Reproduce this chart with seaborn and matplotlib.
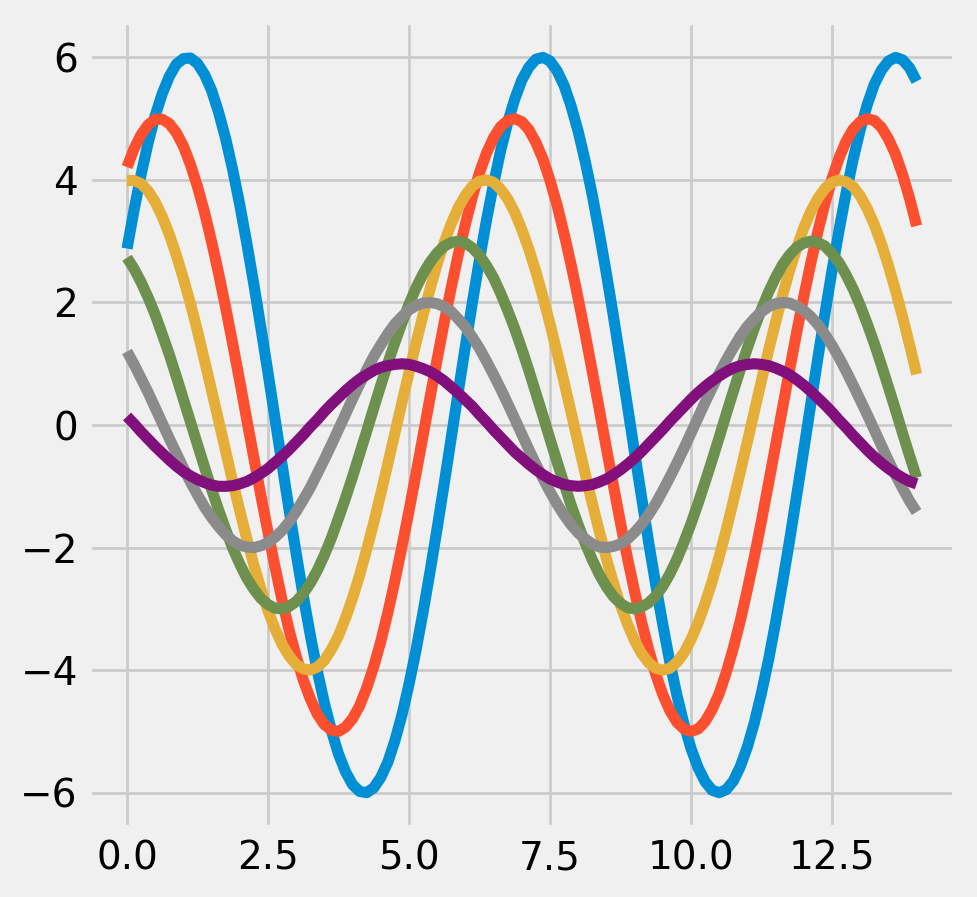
import matplotlib
matplotlib.use("Agg")
import matplotlib.pyplot as plt
import seaborn as sns
import pandas as pd

x = [0.0, 0.125, 0.25, 0.375, 0.5, 0.625, 0.75, 0.875,
     1.0, 1.125, 1.25, 1.375, 1.5, 1.625, 1.75, 1.875,
     2.0, 2.125, 2.25, 2.375, 2.5, 2.625, 2.75, 2.875,
     3.0, 3.125, 3.25, 3.375, 3.5, 3.625, 3.75, 3.875,
     4.0, 4.125, 4.25, 4.375, 4.5, 4.625, 4.75, 4.875,
     5.0, 5.125, 5.25, 5.375, 5.5, 5.625, 5.75, 5.875,
     6.0, 6.125, 6.25, 6.375, 6.5, 6.625, 6.75, 6.875,
     7.0, 7.125, 7.25, 7.375, 7.5, 7.625, 7.75, 7.875,
     8.0, 8.125, 8.25, 8.375, 8.5, 8.625, 8.75, 8.875,
     9.0, 9.125, 9.25, 9.375, 9.5, 9.625, 9.75, 9.875,
     10.0, 10.125, 10.25, 10.375, 10.5, 10.625, 10.75, 10.875,
     11.0, 11.125, 11.25, 11.375, 11.5, 11.625, 11.75, 11.875,
     12.0, 12.125, 12.25, 12.375, 12.5, 12.625, 12.75, 12.875,
     13.0, 13.125, 13.25, 13.375, 13.5, 13.625, 13.75, 13.875,
     14.0]

s1 = [2.88, 3.51, 4.09, 4.61, 5.05, 5.41, 5.69, 5.89,
      5.98, 5.99, 5.90, 5.72, 5.46, 5.10, 4.67, 4.16,
      3.59, 2.96, 2.29, 1.58, 0.85, 0.10, -0.65, -1.39,
      -2.10, -2.79, -3.43, -4.02, -4.54, -4.99, -5.37, -5.66,
      -5.87, -5.98, -6.00, -5.92, -5.75, -5.50, -5.15, -4.73,
      -4.23, -3.67, -3.05, -2.38, -1.68, -0.95, -0.20, 0.55,
      1.29, 2.01, 2.70, 3.35, 3.94, 4.48, 4.94, 5.32,
      5.63, 5.84, 5.97, 6.00, 5.94, 5.78, 5.54, 5.20,
      4.79, 4.30, 3.75, 3.13, 2.47, 1.77, 1.04, 0.30,
      -0.45, -1.19, -1.92, -2.61, -3.26, -3.87, -4.41, -4.88,
      -5.28, -5.59, -5.82, -5.96, -6.00, -5.95, -5.81, -5.57,
      -5.25, -4.85, -4.37, -3.83, -3.22, -2.56, -1.87, -1.14,
      -0.40, 0.35, 1.10, 1.82, 2.52, 3.18, 3.79, 4.34,
      4.82, 5.23, 5.56, 5.79, 5.94, 6.00, 5.96, 5.83,
      5.61]

s2 = [4.21, 4.51, 4.74, 4.90, 4.99, 4.99, 4.92, 4.77,
      4.55, 4.25, 3.89, 3.47, 2.99, 2.47, 1.91, 1.32,
      0.71, 0.08, -0.54, -1.16, -1.75, -2.32, -2.86, -3.35,
      -3.78, -4.16, -4.47, -4.72, -4.89, -4.98, -5.00, -4.93,
      -4.79, -4.58, -4.29, -3.94, -3.53, -3.06, -2.54, -1.98,
      -1.40, -0.79, -0.17, 0.46, 1.08, 1.68, 2.25, 2.79,
      3.28, 3.73, 4.12, 4.44, 4.69, 4.87, 4.97, 5.00,
      4.95, 4.82, 4.61, 4.34, 3.99, 3.59, 3.12, 2.61,
      2.06, 1.48, 0.87, 0.25, -0.38, -0.99, -1.60, -2.18,
      -2.72, -3.22, -3.67, -4.07, -4.40, -4.66, -4.85, -4.96,
      -5.00, -4.96, -4.84, -4.64, -4.38, -4.04, -3.64, -3.19,
      -2.68, -2.14, -1.56, -0.95, -0.33, 0.29, 0.91, 1.52,
      2.10, 2.65, 3.16, 3.62, 4.02, 4.36, 4.63, 4.83,
      4.95, 5.00, 4.97, 4.86, 4.67, 4.42, 4.09, 3.70,
      3.25]

s3 = [3.99, 3.99, 3.94, 3.82, 3.64, 3.40, 3.11, 2.77,
      2.39, 1.98, 1.53, 1.05, 0.56, 0.07, -0.43, -0.93,
      -1.40, -1.86, -2.29, -2.68, -3.03, -3.33, -3.58, -3.77,
      -3.91, -3.98, -4.00, -3.95, -3.84, -3.66, -3.44, -3.15,
      -2.82, -2.45, -2.03, -1.59, -1.12, -0.63, -0.13, 0.37,
      0.86, 1.34, 1.80, 2.23, 2.63, 2.98, 3.29, 3.55,
      3.75, 3.90, 3.98, 4.00, 3.96, 3.85, 3.69, 3.47,
      3.19, 2.87, 2.50, 2.09, 1.65, 1.18, 0.70, 0.20,
      -0.30, -0.80, -1.28, -1.74, -2.18, -2.58, -2.94, -3.25,
      -3.52, -3.73, -3.88, -3.97, -4.00, -3.97, -3.87, -3.72,
      -3.50, -3.23, -2.91, -2.55, -2.15, -1.71, -1.24, -0.76,
      -0.27, 0.23, 0.73, 1.22, 1.68, 2.12, 2.53, 2.89,
      3.22, 3.49, 3.70, 3.86, 3.96, 4.00, 3.97, 3.89,
      3.74, 3.53, 3.27, 2.96, 2.60, 2.20, 1.77, 1.31,
      0.83]

s4 = [2.73, 2.55, 2.33, 2.08, 1.80, 1.48, 1.15, 0.79,
      0.42, 0.05, -0.32, -0.69, -1.05, -1.39, -1.71, -2.01,
      -2.27, -2.50, -2.68, -2.83, -2.93, -2.99, -3.00, -2.96,
      -2.88, -2.75, -2.58, -2.37, -2.12, -1.84, -1.52, -1.19,
      -0.84, -0.47, -0.10, 0.28, 0.65, 1.01, 1.35, 1.67,
      1.97, 2.24, 2.47, 2.66, 2.81, 2.92, 2.98, 3.00,
      2.97, 2.89, 2.77, 2.60, 2.40, 2.15, 1.87, 1.57,
      1.24, 0.89, 0.52, 0.15, -0.23, -0.60, -0.96, -1.31,
      -1.63, -1.93, -2.20, -2.44, -2.64, -2.80, -2.91, -2.98,
      -3.00, -2.97, -2.90, -2.79, -2.63, -2.43, -2.19, -1.91,
      -1.61, -1.28, -0.93, -0.57, -0.20, 0.18, 0.55, 0.91,
      1.26, 1.59, 1.89, 2.17, 2.41, 2.62, 2.78, 2.90,
      2.97, 3.00, 2.98, 2.92, 2.80, 2.65, 2.45, 2.22,
      1.95, 1.65, 1.33, 0.98, 0.62, 0.25, -0.13, -0.50,
      -0.86]

s5 = [1.20, 0.99, 0.76, 0.53, 0.28, 0.03, -0.22, -0.46,
      -0.70, -0.93, -1.14, -1.34, -1.51, -1.66, -1.79, -1.89,
      -1.96, -1.99, -2.00, -1.97, -1.92, -1.83, -1.72, -1.58,
      -1.41, -1.22, -1.02, -0.79, -0.56, -0.32, -0.07, 0.18,
      0.43, 0.67, 0.90, 1.12, 1.31, 1.49, 1.65, 1.77,
      1.88, 1.95, 1.99, 2.00, 1.98, 1.93, 1.85, 1.73,
      1.60, 1.43, 1.25, 1.04, 0.82, 0.59, 0.35, 0.10,
      -0.15, -0.40, -0.64, -0.87, -1.09, -1.29, -1.47, -1.63,
      -1.76, -1.86, -1.94, -1.99, -2.00, -1.98, -1.94, -1.86,
      -1.75, -1.62, -1.46, -1.28, -1.07, -0.85, -0.62, -0.38,
      -0.13, 0.12, 0.37, 0.61, 0.84, 1.06, 1.26, 1.45,
      1.61, 1.74, 1.85, 1.93, 1.98, 2.00, 1.99, 1.94,
      1.87, 1.77, 1.64, 1.48, 1.30, 1.10, 0.88, 0.65,
      0.41, 0.17, -0.08, -0.33, -0.58, -0.81, -1.03, -1.24,
      -1.42]

s6 = [0.14, 0.02, -0.11, -0.23, -0.35, -0.46, -0.57, -0.67,
      -0.76, -0.83, -0.89, -0.94, -0.98, -1.00, -1.00, -0.99,
      -0.96, -0.92, -0.86, -0.79, -0.71, -0.61, -0.51, -0.40,
      -0.28, -0.16, -0.03, 0.09, 0.22, 0.34, 0.45, 0.56,
      0.66, 0.75, 0.82, 0.89, 0.94, 0.97, 0.99, 1.00,
      0.99, 0.96, 0.92, 0.87, 0.80, 0.72, 0.62, 0.52,
      0.41, 0.30, 0.17, 0.05, -0.08, -0.20, -0.32, -0.44,
      -0.54, -0.64, -0.73, -0.81, -0.88, -0.93, -0.97, -0.99,
      -1.00, -0.99, -0.97, -0.93, -0.88, -0.81, -0.73, -0.64,
      -0.54, -0.43, -0.31, -0.19, -0.07, 0.06, 0.18, 0.30,
      0.42, 0.53, 0.63, 0.72, 0.80, 0.87, 0.93, 0.97,
      0.99, 1.00, 0.99, 0.97, 0.93, 0.88, 0.82, 0.74,
      0.65, 0.55, 0.44, 0.33, 0.21, 0.08, -0.04, -0.17,
      -0.29, -0.41, -0.52, -0.62, -0.71, -0.79, -0.86, -0.92,
      -0.96]

series_names = ["s1", "s2", "s3", "s4", "s5", "s6"]
series_values = [s1, s2, s3, s4, s5, s6]
colors = ["#008fd5", "#fc4f30", "#e5ae38", "#6d904f", "#8b8b8b", "#810f7c"]

for vals in series_values:
    assert len(vals) == len(x), len(vals)

rows = []
for name, vals in zip(series_names, series_values):
    for xv, yv in zip(x, vals):
        rows.append({"x": xv, "y": yv, "series": name})
df = pd.DataFrame(rows)

plt.style.use("fivethirtyeight")

fig = plt.figure(figsize=(977 / 200, 897 / 200), dpi=200)
ax = fig.add_axes([0.0896, 0.0753, 0.889, 0.9017])
sns.lineplot(data=df, x="x", y="y", hue="series", hue_order=series_names,
             palette=colors, linewidth=4, legend=False, ax=ax, sort=False,
             estimator=None)
ax.set_xlabel("")
ax.set_ylabel("")
fig.savefig("out.png", dpi=200)
